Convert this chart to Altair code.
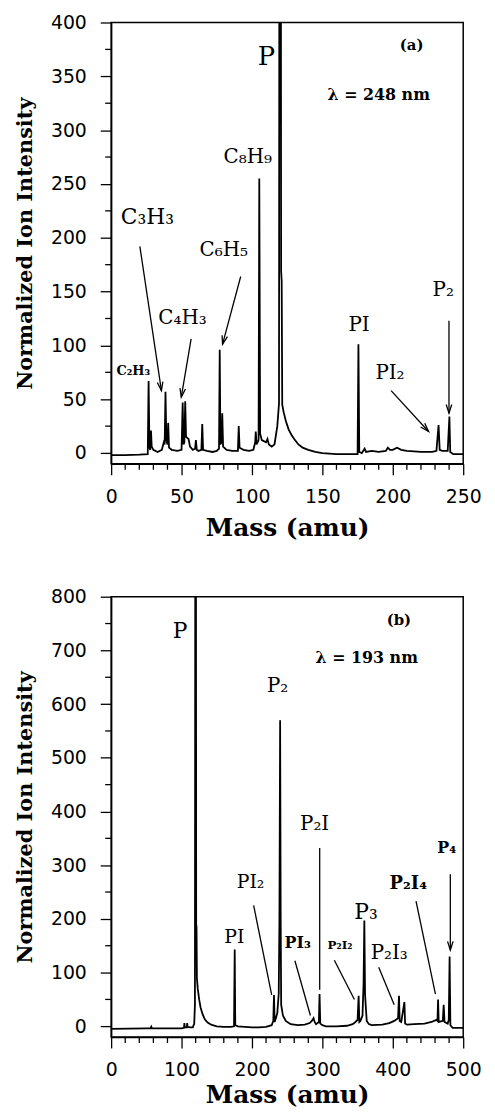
import math
import altair as alt
import pandas as pd

# ---------------- Panel (a): lambda = 248 nm ----------------
mass_a = [0, 10, 20, 26, 26.6, 27.2, 27.8, 28.3, 28.8, 30, 33, 36, 37.4, 38.0, 38.6, 39.2, 40.0, 40.5, 41.1,
          43, 47, 50, 50.8, 51.4, 52.0, 52.6, 53.2, 55, 56, 58, 59.6, 60.2, 60.8, 62, 64.1, 64.7, 65.3,
          68, 72, 75, 76.6, 77.1, 77.6, 78.4, 78.9, 79.5, 82, 86, 90, 90.6, 91.2, 94, 98, 101, 102.3,
          102.7, 103.3, 104.7, 105.2, 105.8, 107, 110, 111, 112, 114, 116, 118, 119.2, 120, 120.7, 121.1,
          121.5, 122.5, 124, 126, 128, 130, 133, 136, 140, 145, 150, 160, 170, 175, 175.6, 176.2, 178,
          180, 181, 185, 190, 195, 196.5, 198, 200, 203, 206, 210, 220, 228, 231, 232.5, 233.3, 235,
          239, 240.2, 240.8, 243, 250]
intensity_a = [-2, -2, -1.5, -1, 67, 5, 3, 21, 6, 3, 1, 3, 10, 8, 57, 12, 8, 28, 5,
               3, 2, 3, 47, 8, 10, 48, 15, 13, 6, 3, 4, 12, 3, 2, 3, 27, 3,
               2, 1, 2, 4, 96, 8, 10, 37, 6, 3, 2, 2, 25, 5, 3, 2, 3, 10,
               20, 8, 12, 255, 18, 12, 10, 13, 8, 6, 8, 25, 46, 1500, 169, 160,
               45, 38, 30, 22, 17, 13, 8, 5, 3, 1, 0, -1, -1, -1, 101, 1, 0,
               4, 1, 2, 1, 2, 5, 3, 3, 5, 3, 2, 1, 1, 2, 26, 3, 2,
               2, 34, 1, -1, -1]

labels_a_text = ["C₂H₃", "C₃H₃", "C₄H₃", "C₆H₅", "C₈H₉", "P", "PI", "PI₂", "P₂", "(a)", "λ = 248 nm"]
labels_a_mass = [15.7, 25.7, 50.7, 80, 97, 110.2, 176, 198, 235.8, 213.4, 190]
labels_a_int = [76, 219, 125, 189, 275, 368, 119, 74, 151, 379, 333]
labels_a_size = [13, 22, 20, 20, 20, 26, 20, 20, 20, 15, 16]
labels_a_bold = [1, 0, 0, 0, 0, 0, 0, 0, 0, 1, 1]

arrows_a_m1 = [20.4, 56.8, 92, 198.8, 239.9]
arrows_a_i1 = [192, 106, 164, 58, 123]
arrows_a_m2 = [35.7, 49.8, 79.1, 225.4, 239.9]
arrows_a_i2 = [58, 52, 101, 20, 37]
arrows_a_head = [1, 1, 1, 1, 1]

# ---------------- Panel (b): lambda = 193 nm ----------------
mass_b = [0, 50, 56, 57, 58, 100, 103.5, 104, 104.5, 107.5, 108, 108.5, 112, 116, 118, 119, 120, 120.8,
          121.3, 121.8, 123, 125, 127, 130, 133, 137, 142, 150, 160, 170, 174.5, 175.5, 176.3, 180,
          190, 200, 210, 220, 228, 230.3, 231.3, 232.2, 234, 236, 238, 239, 240, 240.8, 241.5, 244,
          248, 255, 265, 275, 282, 285, 287.5, 289, 291, 295, 296, 297, 300, 305, 320, 335, 343, 347,
          350, 351.5, 352.5, 354, 357, 358.5, 359.6, 360.6, 361.5, 363, 366, 370, 385, 395, 402, 407.5,
          408.8, 409.8, 412, 416.5, 417.5, 420, 430, 445, 455, 462, 463.5, 464.3, 465.2, 471, 472.3,
          473.5, 478, 479.5, 480.7, 481.8, 485, 500]
intensity_b = [-5, -4, -4, -1, -4, -4, -3, 6, -2, -2, 6, -1, -2, -2, 5, 40, 1800, 190,
               185, 90, 70, 50, 35, 22, 13, 7, 3, 0, -1, -1, 0, 143, 2, 0,
               -1, -2, -2, -1, 2, 10, 58, 8, 15, 25, 60, 197, 570, 197, 40, 20,
               10, 4, 2, 3, 6, 10, 15, 8, 4, 8, 60, 5, 2, 0, 0, 1, 4, 8,
               12, 57, 8, 10, 20, 80, 197, 60, 40, 10, 4, 2, 3, 6, 10, 15,
               57, 10, 8, 45, 5, 3, 4, 5, 8, 12, 10, 50, 8, 10, 40,
               8, 5, 12, 130, 2, -3, -3]

labels_b_text = ["P", "(b)", "λ = 193 nm", "P₂", "P₂I", "PI₂", "PI", "PI₃", "P₂I₂", "P₃", "P₂I₃", "P₂I₄", "P₄"]
labels_b_mass = [97.9, 408.7, 363, 236.3, 289, 198, 175, 265, 325, 362, 395, 422, 476.5]
labels_b_int = [736, 757, 686, 633, 376, 268, 166, 155, 152, 212, 137, 264, 331]
labels_b_size = [22, 15, 16, 20, 20, 19, 19, 16, 12, 22, 20, 18, 16]
labels_b_bold = [0, 1, 1, 0, 0, 0, 0, 1, 1, 0, 0, 1, 1]

arrows_b_m1 = [202.4, 296.2, 261, 317, 380, 433, 481.7]
arrows_b_i1 = [225, 332, 122, 123, 110, 233, 283]
arrows_b_m2 = [228, 296.2, 283, 345.5, 402, 460.6, 481.7]
arrows_b_i2 = [58.5, 68, 20, 50, 40, 60, 142]
arrows_b_head = [0, 0, 0, 0, 0, 0, 1]

W = 355
H_A = 445
H_B = 444
HEAD_PATH = "M-0.4,1.25L0,0L0.4,1.25"


def panel(mass, inten, lt, lm, li, ls, lb, am1, ai1, am2, ai2, ah,
          xdom, ydom, xstep, xmajor, ystep, ymajor, h, xtitle_pad):
    sx = W / (xdom[1] - xdom[0])
    sy = h / (ydom[1] - ydom[0])
    trace_df = pd.DataFrame({"mass": mass, "intensity": inten})
    lab_df = pd.DataFrame({"mass": lm, "intensity": li, "text": lt, "size": ls, "bold": lb})
    angles = []
    for a, b, c, d in zip(am1, ai1, am2, ai2):
        dx = (c - a) * sx
        dy = -(d - b) * sy
        angles.append(math.degrees(math.atan2(dx, -dy)) % 360)
    arr_df = pd.DataFrame({"mass": am1, "intensity": ai1, "mass2": am2, "intensity2": ai2,
                           "head": ah, "angle": angles})

    xs = alt.Scale(domain=xdom, nice=False, zero=False)
    ys = alt.Scale(domain=ydom, nice=False, zero=False)
    x_major = list(range(xdom[0], xdom[1] + 1, xmajor))
    x_minor = pd.DataFrame({"mass": [v for v in range(xdom[0], xdom[1] + 1, xstep) if v % xmajor != 0]})
    y_major = list(range(0, ydom[1] + 1, ymajor))
    y_minor = pd.DataFrame({"intensity": [v for v in range(0, ydom[1] + 1, ystep) if v % ymajor != 0]})

    x_axis = alt.Axis(values=x_major, tickSize=11, title="Mass (amu)", orient="bottom",
                      labelOverlap=False, labelFlush=False, labelPadding=13, titlePadding=xtitle_pad)
    y_axis = alt.Axis(values=y_major, tickSize=11, title="Normalized Ion Intensity",
                      orient="left", labelOverlap=False, labelFlush=False, labelPadding=14)

    trace = alt.Chart(trace_df).mark_line(color="black", strokeWidth=1.8, clip=True).encode(
        x=alt.X("mass:Q", scale=xs, axis=x_axis),
        y=alt.Y("intensity:Q", scale=ys, axis=y_axis),
    )
    xminor = alt.Chart(x_minor).mark_rule(color="black", strokeWidth=1.3).encode(
        x="mass:Q", y=alt.value(h), y2=alt.value(h + 6)
    )
    yminor = alt.Chart(y_minor).mark_rule(color="black", strokeWidth=1.3).encode(
        y="intensity:Q", x=alt.value(0), x2=alt.value(-6)
    )
    rules = alt.Chart(arr_df).mark_rule(color="black", strokeWidth=1.3).encode(
        x="mass:Q", y="intensity:Q", x2="mass2:Q", y2="intensity2:Q"
    )
    heads = alt.Chart(arr_df).transform_filter("datum.head == 1").mark_point(
        shape=HEAD_PATH, filled=False, color="black", strokeWidth=1.3, size=196, opacity=1
    ).encode(x="mass2:Q", y="intensity2:Q", angle=alt.Angle("angle:Q", scale=None))
    txt_n = alt.Chart(lab_df).transform_filter("datum.bold == 0").mark_text(
        font="DejaVu Serif", color="black", align="center", baseline="middle"
    ).encode(x="mass:Q", y="intensity:Q", text="text:N", size=alt.Size("size:Q", scale=None))
    txt_b = alt.Chart(lab_df).transform_filter("datum.bold == 1").mark_text(
        font="DejaVu Serif", fontWeight="bold", color="black", align="center", baseline="middle"
    ).encode(x="mass:Q", y="intensity:Q", text="text:N", size=alt.Size("size:Q", scale=None))
    return alt.layer(trace, xminor, yminor, rules, heads, txt_n, txt_b).properties(width=W, height=h)


pa = panel(mass_a, intensity_a, labels_a_text, labels_a_mass, labels_a_int, labels_a_size, labels_a_bold,
           arrows_a_m1, arrows_a_i1, arrows_a_m2, arrows_a_i2, arrows_a_head,
           [0, 250], [-10, 400], 10, 50, 25, 50, H_A, 9)
pb = panel(mass_b, intensity_b, labels_b_text, labels_b_mass, labels_b_int, labels_b_size, labels_b_bold,
           arrows_b_m1, arrows_b_i1, arrows_b_m2, arrows_b_i2, arrows_b_head,
           [0, 500], [-20, 800], 20, 100, 50, 100, H_B, 3)

chart = alt.vconcat(pa, pb, spacing=46).configure_view(
    stroke="black", strokeWidth=1.5
).configure_axis(
    domainColor="black", domainWidth=1.5, tickColor="black", tickWidth=1.3,
    labelFont="DejaVu Sans", labelFontSize=19, labelColor="black",
    titleFont="DejaVu Serif", titleFontWeight="bold", titleColor="black",
    grid=False,
).configure_axisX(titleFontSize=25).configure_axisY(
    titleFontSize=21, titlePadding=15
).properties(padding={"left": 5, "top": 0, "right": 5, "bottom": 0}, background="white")

chart.save("out.html", embed_options={"renderer": "svg", "actions": False})
